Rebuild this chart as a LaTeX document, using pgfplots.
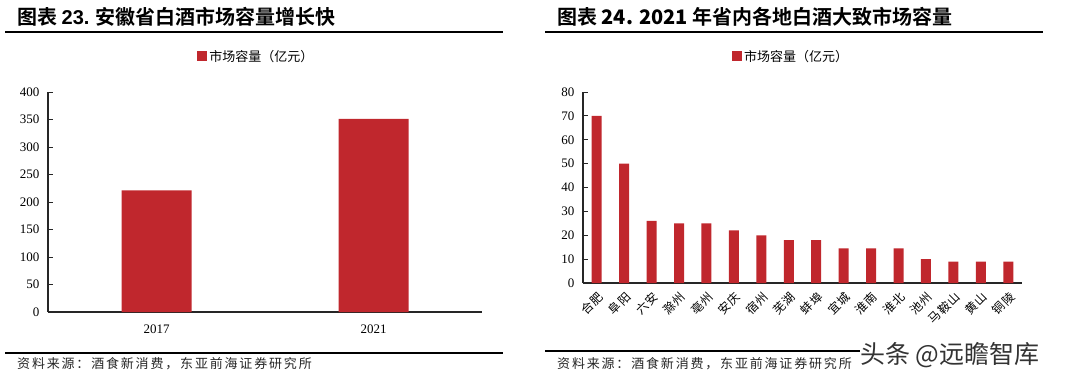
\documentclass[border=0pt]{standalone}
\usepackage{pgfplots}
\pgfplotsset{compat=1.18}
\usepackage{fontspec}
\setmainfont{Liberation Serif}
\newfontfamily\sansf{Liberation Sans}
\newfontfamily\cjk{Noto Sans CJK SC}
\newfontfamily\cjkb{Noto Sans CJK SC Bold}
\newfontfamily\cjksp{Noto Sans CJK SC}[LetterSpace=14]
\newfontfamily\cjkl{Noto Sans CJK SC}[LetterSpace=8]
\definecolor{barred}{HTML}{C0272D}
\pgfplotsset{
  common/.style={
    scale only axis,
    axis x line*=bottom, axis y line*=left,
    axis line style={line width=1.4pt, black!85},
    ymin=0,
    tick align=inside,
    major tick length=4.5pt,
    ytick style={line width=1pt, black!85},
    xtick style={draw=none},
    /pgf/number format/assume math mode=true,
    ticklabel style={font=\fontsize{13}{13}\selectfont},
    yticklabel style={xshift=-5pt},
    ybar, bar shift=0pt,
    legend style={draw=none, fill=none, font=\cjk\fontsize{13}{13}\selectfont, inner sep=0pt},
    legend image code/.code={\fill[barred] (0pt,-5pt) rectangle (10pt,5pt);},
  }
}
\begin{document}
\begin{tikzpicture}[x=1pt,y=1pt]
\path[use as bounding box] (0,0) rectangle (1080,-383);
% ---------- left panel ----------
\node[anchor=west, inner sep=0] at (17,-17) {\fontsize{20}{20}\selectfont\cjkb 图表 {\sansf\bfseries 23.} 安徽省白酒市场容量增长快};
\draw[line width=1.8pt] (5,-32) -- (503,-32);
\begin{axis}[common,
  at={(48pt,-312pt)}, anchor=south west,
  width=434pt, height=220pt,
  ymax=400, ytick={0,50,...,400},
  xmin=-0.5, xmax=1.5, xtick={0,1}, xticklabels={2017,2021},
  xticklabel style={yshift=-5pt},
  bar width=70pt,
  legend style={at={(axis description cs:0.48,1)}, anchor=south, yshift=27pt},
]
\addplot[fill=barred, draw=none] coordinates {(0,221) (1,351)};
\addlegendentry{市场容量（亿元）}
\end{axis}
\draw[line width=1.8pt] (5,-353) -- (503,-353);
\node[anchor=west, inner sep=0, text=black!85] at (17,-364) {\cjksp\fontsize{13}{13}\selectfont 资料来源：酒食新消费，东亚前海证券研究所};
% ---------- right panel ----------
\node[anchor=west, inner sep=0] at (557,-17) {\fontsize{20}{20}\selectfont\cjkb 图表 {\bfseries 24. 2021} 年省内各地白酒大致市场容量};
\draw[line width=1.8pt] (545,-32) -- (1043,-32);
\begin{axis}[common,
  at={(583pt,-283pt)}, anchor=south west,
  width=439pt, height=191pt,
  ymax=80, ytick={0,10,...,80},
  xmin=-0.5, xmax=15.5, xtick={0,...,15},
  xticklabels={合肥,阜阳,六安,滁州,亳州,安庆,宿州,芜湖,蚌埠,宜城,淮南,淮北,池州,马鞍山,黄山,铜陵},
  xticklabel style={rotate=45, anchor=east, font=\cjkl\fontsize{12}{12}\selectfont, inner sep=1pt, yshift=-8pt, xshift=-1pt},
  bar width=10pt,
  legend style={at={(axis description cs:0.474,1)}, anchor=south, yshift=27pt},
]
\addplot[fill=barred, draw=none] coordinates {
(0,70) (1,50) (2,26) (3,25) (4,25) (5,22) (6,20) (7,18) (8,18) (9,14.5) (10,14.5) (11,14.5) (12,10) (13,9) (14,9) (15,9)};
\addlegendentry{市场容量（亿元）}
\end{axis}
\draw[line width=1.8pt] (545,-351) -- (860,-351);
\node[anchor=west, inner sep=0, text=black!85] at (557,-364) {\cjksp\fontsize{13}{13}\selectfont 资料来源：酒食新消费，东亚前海证券研究所};
\node[anchor=west, inner sep=0, text=black!80] at (860,-355) {\cjk\fontsize{25}{25}\selectfont 头条 @远瞻智库};
\end{tikzpicture}
\end{document}
